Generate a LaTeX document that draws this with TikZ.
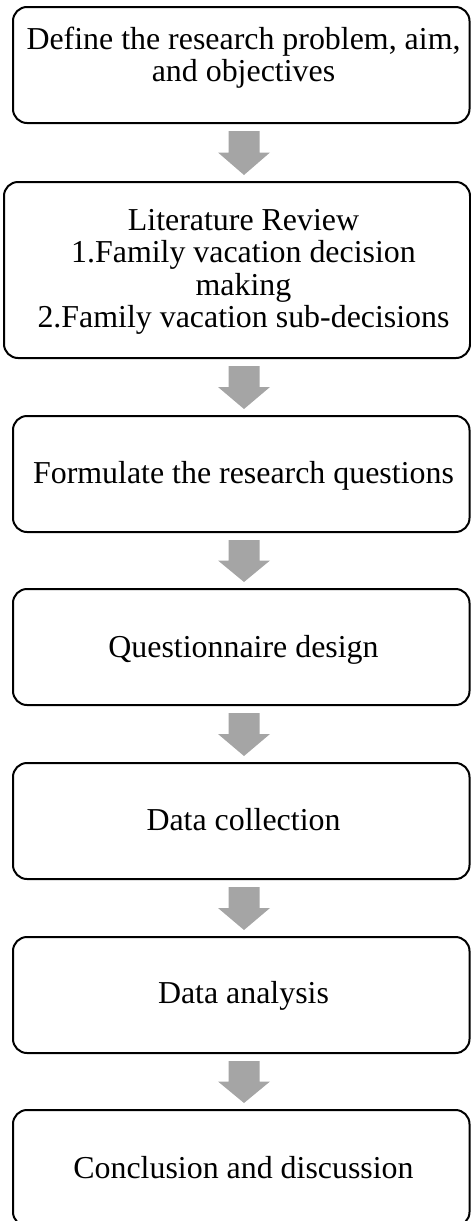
\documentclass[tikz,border=0pt]{standalone}
\usepackage{fontspec}
\setmainfont{Liberation Serif}
\usetikzlibrary{calc}
\definecolor{arrowgray}{HTML}{A5A5A5}
\tikzset{
  stepbox/.style={draw=black, line width=2pt, rounded corners=14pt, fill=white, inner sep=0pt, minimum width=456.5pt, minimum height=116pt},
  boxtext/.style={anchor=base, inner sep=0pt, font=\fontsize{31.9pt}{32.5pt}\selectfont},
  arrowfill/.style={fill=arrowgray, draw=none}
}
\newcommand\boxlines[1]{\begin{tabular}[t]{@{}c@{}}#1\end{tabular}}
\newcommand\blockarrow[2]{%
  \fill[arrowfill] let \p1=(#1.south), \p2=(#2.north) in
    (228.5pt,\y1-7pt) -- (259.5pt,\y1-7pt) -- (259.5pt,{0.5*\y1+0.5*\y2}) -- (270pt,{0.5*\y1+0.5*\y2})
    -- (244pt,\y2+6pt) -- (218pt,{0.5*\y1+0.5*\y2}) -- (228.5pt,{0.5*\y1+0.5*\y2}) -- cycle;}
\begin{document}
\begin{tikzpicture}
\useasboundingbox (0,0) rectangle (471pt,-1221pt);
\node[stepbox] (b1) at (241.25pt,-65pt) {};
\node[stepbox, minimum width=466pt, minimum height=176pt] (b2) at (237pt,-270pt) {};
\node[stepbox] (b3) at (241.25pt,-474pt) {};
\node[stepbox] (b4) at (241.25pt,-647pt) {};
\node[stepbox] (b5) at (241.25pt,-821pt) {};
\node[stepbox] (b6) at (241.25pt,-995pt) {};
\node[stepbox] (b7) at (241.25pt,-1168pt) {};

\node[boxtext] (t1) at (243.5pt,-49pt) {\boxlines{Define the research problem, aim,\\ and objectives}};
\node[boxtext] (t2) at (243.5pt,-230pt) {\boxlines{Literature Review\\ 1.Family vacation decision\\ making\\ 2.Family vacation sub-decisions}};
\node[boxtext] (t3) at (243.5pt,-483pt) {Formulate the research questions};
\node[boxtext] (t4) at (243.5pt,-657pt) {Questionnaire design};
\node[boxtext] (t5) at (243.5pt,-830pt) {Data collection};
\node[boxtext] (t6) at (243.5pt,-1003pt) {Data analysis};
\node[boxtext] (t7) at (243.5pt,-1178pt) {Conclusion and discussion};

\blockarrow{b1}{b2}
\blockarrow{b2}{b3}
\blockarrow{b3}{b4}
\blockarrow{b4}{b5}
\blockarrow{b5}{b6}
\blockarrow{b6}{b7}
\end{tikzpicture}
\end{document}
